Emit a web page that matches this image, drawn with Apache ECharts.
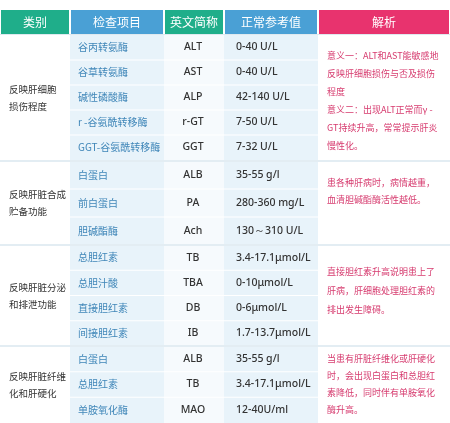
<!DOCTYPE html>
<html lang="zh" style="height: 100%">
<head>
    <meta charset="UTF-8">
    <title>肝功能检查</title>
    <script type="text/javascript" src="https://cdn.jsdelivr.net/npm/echarts@6/dist/echarts.min.js"></script>
</head>
<body style="height: 100%; margin: 0; background: #fff">
    <div id="container" style="width: 450px; height: 423px"></div>
    <script type="text/javascript">
    var headers = ['类别', '检查项目', '英文简称', '正常参考值', '解析'];
    var categories = [['反映肝细胞', '损伤程度'], ['反映肝脏合成', '贮备功能'], ['反映肝脏分泌', '和排泄功能'], ['反映肝脏纤维', '化和肝硬化']];
    var items = [
        ['谷丙转氨酶', '谷草转氨酶', '碱性磷酸酶', 'r -谷氨酰转移酶', 'GGT-谷氨酰转移酶'],
        ['白蛋白', '前白蛋白', '胆碱酯酶'],
        ['总胆红素', '总胆汁酸', '直接胆红素', '间接胆红素'],
        ['白蛋白', '总胆红素', '单胺氧化酶']
    ];
    var abbrs = [
        ['ALT', 'AST', 'ALP', 'r-GT', 'GGT'],
        ['ALB', 'PA', 'Ach'],
        ['TB', 'TBA', 'DB', 'IB'],
        ['ALB', 'TB', 'MAO']
    ];
    var ranges = [
        ['0-40 U/L', '0-40 U/L', '42-140 U/L', '7-50 U/L', '7-32 U/L'],
        ['35-55 g/l', '280-360 mg/L', '130～310 U/L'],
        ['3.4-17.1μmol/L', '0-10μmol/L', '0-6μmol/L', '1.7-13.7μmol/L'],
        ['35-55 g/l', '3.4-17.1μmol/L', '12-40U/ml']
    ];
    var notes = [
        ['意义一：ALT和AST能敏感地', '反映肝细胞损伤与否及损伤', '程度', '意义二：出现ALT正常而γ -', 'GT持续升高，常常提示肝炎', '慢性化。'],
        ['患各种肝病时，病情越重，', '血清胆碱酯酶活性越低。'],
        ['直接胆红素升高说明患上了', '肝病，肝细胞处理胆红素的', '排出发生障碍。'],
        ['当患有肝脏纤维化或肝硬化', '时，会出现白蛋白和总胆红', '素降低，同时伴有单胺氧化', '酶升高。']
    ];

    var colX = [0, 70, 164, 224, 318, 450];
    var headColors = ['#1fae8a', '#4aa0d5', '#1fae8a', '#4aa0d5', '#e8336e'];
    var headTop = 10, headH = 24;
    var groupTop = [35, 161, 245, 346];
    var groupH = [125, 84, 101, 77];
    var noteTop = [56, 183, 272, 359];
    var noteLine = [18, 17, 19, 17];
    var cjk = '"Noto Sans CJK SC"';

    var g = [];
    headers.forEach(function (h, i) {
        g.push({ type: 'rect', shape: { x: colX[i] + 1, y: headTop, width: colX[i + 1] - colX[i] - 2, height: headH },
            style: { fill: headColors[i] } });
        g.push({ type: 'text', x: (colX[i] + colX[i + 1]) / 2, y: headTop + headH / 2,
            style: { text: h, fill: '#fff', font: '12px ' + cjk, align: 'center', verticalAlign: 'middle' } });
    });
    g.push({ type: 'rect', shape: { x: 0, y: headTop + headH, width: 450, height: 1 }, style: { fill: '#dfe9ef' } });

    categories.forEach(function (c, gi) {
        var top = groupTop[gi], h = groupH[gi], n = items[gi].length, rh = h / n;
        g.push({ type: 'rect', shape: { x: colX[1], y: top, width: colX[2] - colX[1], height: h }, style: { fill: '#e8f3fa' } });
        g.push({ type: 'rect', shape: { x: colX[2], y: top, width: colX[3] - colX[2], height: h }, style: { fill: '#f6fafd' } });
        g.push({ type: 'rect', shape: { x: colX[3], y: top, width: colX[4] - colX[3], height: h }, style: { fill: '#e8f3fa' } });
        g.push({ type: 'text', x: 9, y: top + h / 2,
            style: { text: c.join('\n'), fill: '#333', font: '9.5px ' + cjk, lineHeight: 17, verticalAlign: 'middle' } });
        items[gi].forEach(function (it, ri) {
            var cy = top + rh * ri + rh / 2;
            if (ri > 0) g.push({ type: 'rect', shape: { x: colX[1], y: top + rh * ri - 0.5, width: colX[4] - colX[1], height: 1 }, style: { fill: '#ffffff' } });
            g.push({ type: 'text', x: 78, y: cy, style: { text: it, fill: '#3f86b8', font: '10px ' + cjk, verticalAlign: 'middle' } });
            g.push({ type: 'text', x: 193, y: cy, style: { text: abbrs[gi][ri], fill: '#333', font: '500 10.5px "Noto Sans"', align: 'center', verticalAlign: 'middle' } });
            g.push({ type: 'text', x: 236, y: cy, style: { text: ranges[gi][ri], fill: '#333', font: '500 10.5px "Noto Sans"', verticalAlign: 'middle' } });
        });
        notes[gi].forEach(function (t, li) {
            g.push({ type: 'text', x: 327, y: noteTop[gi] + li * noteLine[gi],
                style: { text: t, fill: '#d63a6e', font: '9px ' + cjk, verticalAlign: 'middle' } });
        });
        if (gi > 0) g.push({ type: 'rect', shape: { x: 0, y: top - 1, width: 450, height: 2 }, style: { fill: '#e3edf3' } });
    });

    var myChart = echarts.init(document.getElementById('container'));
    myChart.setOption({ animation: false, graphic: g });
    </script>
</body>
</html>
